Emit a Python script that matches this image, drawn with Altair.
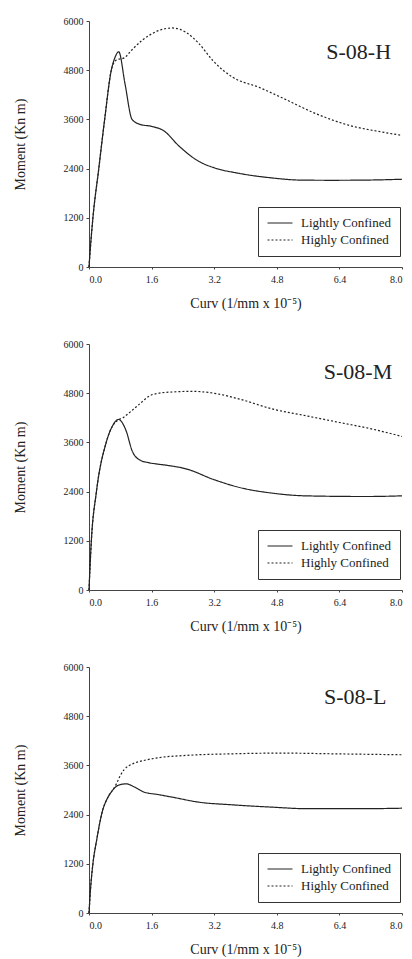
import altair as alt
import pandas as pd

SERIES = ["Lightly Confined", "Highly Confined"]
X_TICKS = [0.0, 1.6, 3.2, 4.8, 6.4, 8.0]
Y_TICKS = [0, 1200, 2400, 3600, 4800, 6000]

# S-08-H
h_light_x = [0, 0.03, 0.10, 0.25, 0.40, 0.57, 0.66, 0.76, 0.92, 1.10, 1.30, 1.60, 1.90, 2.30, 2.80, 3.20, 3.80, 4.70, 5.40, 6.20, 7.10, 8.0]
h_light_y = [0, 400, 1200, 2400, 3600, 4800, 5100, 5250, 4470, 3600, 3480, 3430, 3330, 2950, 2580, 2420, 2290, 2170, 2120, 2115, 2120, 2140]
h_high_x = [0, 0.03, 0.10, 0.25, 0.40, 0.57, 0.70, 0.90, 1.10, 1.36, 1.79, 2.13, 2.47, 2.81, 3.16, 3.67, 4.35, 4.95, 5.80, 6.65, 7.50, 8.0]
h_high_y = [0, 400, 1200, 2400, 3600, 4800, 5050, 5100, 5300, 5530, 5770, 5830, 5730, 5450, 5040, 4630, 4380, 4120, 3740, 3455, 3290, 3210]

# S-08-M
m_light_x = [0, 0.06, 0.19, 0.44, 0.60, 0.75, 0.95, 1.10, 1.30, 1.50, 1.76, 2.00, 2.50, 3.17, 3.85, 4.70, 5.55, 7.08, 8.0]
m_light_y = [0, 1200, 2400, 3600, 4000, 4160, 3880, 3400, 3170, 3110, 3070, 3040, 2950, 2700, 2500, 2360, 2296, 2280, 2296]
m_high_x = [0, 0.06, 0.19, 0.44, 0.60, 0.75, 0.87, 1.00, 1.29, 1.55, 1.76, 2.14, 2.66, 3.25, 3.85, 4.70, 5.55, 6.40, 7.25, 8.0]
m_high_y = [0, 1200, 2400, 3600, 4000, 4150, 4200, 4300, 4534, 4737, 4797, 4830, 4845, 4790, 4656, 4412, 4249, 4086, 3923, 3744]

# S-08-L
l_light_x = [0, 0.04, 0.10, 0.20, 0.32, 0.50, 0.60, 0.70, 0.80, 0.95, 1.15, 1.40, 1.76, 2.13, 2.81, 3.67, 4.69, 5.54, 7.08, 8.0]
l_light_y = [0, 600, 1200, 1800, 2400, 2850, 2990, 3090, 3130, 3150, 3080, 2950, 2890, 2825, 2703, 2638, 2581, 2545, 2545, 2556]
l_high_x = [0, 0.04, 0.10, 0.20, 0.32, 0.50, 0.60, 0.70, 0.80, 0.90, 1.00, 1.17, 1.40, 1.79, 2.47, 3.67, 4.95, 6.23, 8.0]
l_high_y = [0, 600, 1200, 1800, 2400, 2850, 2990, 3150, 3350, 3500, 3580, 3660, 3720, 3790, 3843, 3883, 3900, 3883, 3859]

PANELS = [
    ("S-08-H", h_light_x, h_light_y, h_high_x, h_high_y, 7.72, 5250),
    ("S-08-M", m_light_x, m_light_y, m_high_x, m_high_y, 7.75, 5320),
    ("S-08-L", l_light_x, l_light_y, l_high_x, l_high_y, 7.60, 5260),
]

FONT = "Liberation Serif"


def panel(name, lx, ly, hx, hy, tx, ty):
    rows = []
    for x, y in zip(lx, ly):
        rows.append({"curv": x, "moment": y, "series": SERIES[0]})
    for x, y in zip(hx, hy):
        rows.append({"curv": x, "moment": y, "series": SERIES[1]})
    df = pd.DataFrame(rows)

    x_enc = alt.X(
        "curv:Q",
        scale=alt.Scale(domain=[0, 8], nice=False),
        axis=alt.Axis(values=X_TICKS, format=".1f", title="Curv (1/mm x 10\u207b\u2075)",
                      tickSize=2, labelPadding=5, titlePadding=12),
    )
    y_enc = alt.Y(
        "moment:Q",
        scale=alt.Scale(domain=[0, 6000], nice=False),
        axis=alt.Axis(values=Y_TICKS, format="d", title="Moment (Kn m)", tickSize=3,
                      labelPadding=3, titlePadding=36),
    )
    lines = alt.Chart(df).mark_line(interpolate="monotone", strokeWidth=1.2, color="#222").encode(
        x=x_enc,
        y=y_enc,
        strokeDash=alt.StrokeDash(
            "series:N",
            scale=alt.Scale(domain=SERIES, range=[[1, 0], [2, 2]]),
            legend=alt.Legend(
                title=None, orient="none", legendX=169, legendY=186,
                strokeColor="#333", fillColor="white", padding=9,
                symbolType="M-2,0L2,0", symbolSize=156, symbolStrokeWidth=1.2,
                symbolOffset=6, symbolStrokeColor="#222", labelFont=FONT,
                labelFontSize=13, labelColor="#222", rowPadding=3, labelOffset=14,
            ),
        ),
        order="curv:Q",
    )
    label = alt.Chart(pd.DataFrame({"name": [name]})).mark_text(
        font=FONT, fontSize=22, align="right", baseline="middle", color="#222"
    ).encode(x=alt.datum(tx), y=alt.datum(ty), text="name:N")
    return alt.layer(lines, label).properties(width=313, height=246)


charts = [panel(*p) for p in PANELS]

chart = alt.vconcat(*charts, spacing=29).resolve_legend(strokeDash="independent").resolve_scale(
    strokeDash="independent"
).properties(
    background="white", padding={"left": 13, "top": 16, "right": 0, "bottom": 3}
).configure_view(stroke=None).configure_axis(
    labelFont=FONT, titleFont=FONT, labelFontSize=10, titleFontSize=14,
    titleFontWeight="normal", labelColor="#222", titleColor="#222",
    domainColor="#444", tickColor="#444", grid=False,
)

chart.save("out.html", embed_options={"renderer": "svg", "actions": False})
